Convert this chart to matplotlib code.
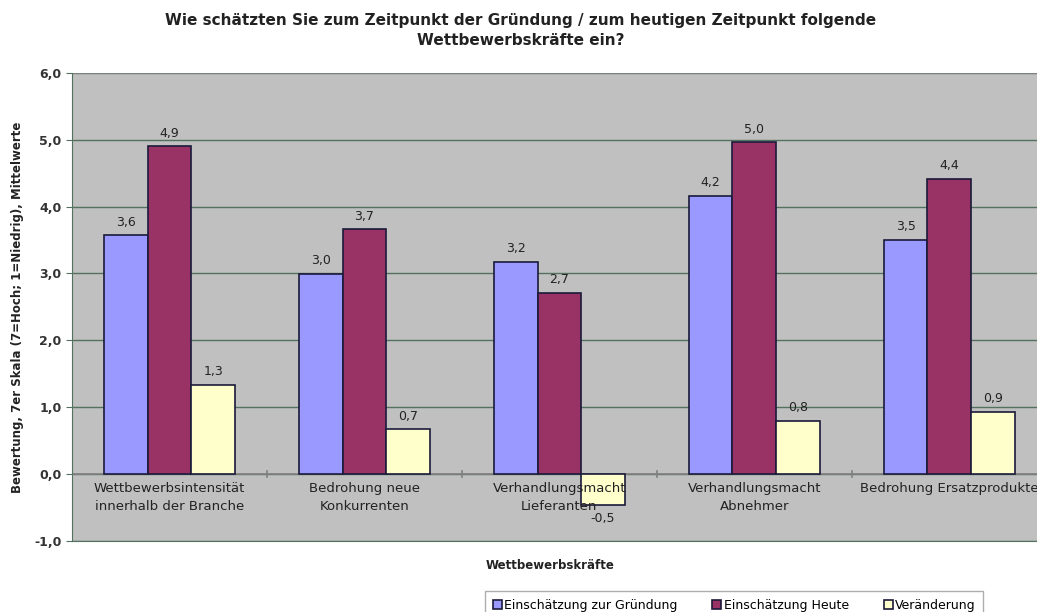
import matplotlib
matplotlib.use("Agg")
import matplotlib.pyplot as plt
import numpy as np

plt.rcParams["font.family"] = ["DejaVu Sans"]

categories = ["Wettbewerbsintensität\ninnerhalb der Branche",
              "Bedrohung neue\nKonkurrenten",
              "Verhandlungsmacht\nLieferanten",
              "Verhandlungsmacht\nAbnehmer",
              "Bedrohung Ersatzprodukte"]
gruendung = [3.57, 2.99, 3.17, 4.16, 3.50]
heute = [4.90, 3.66, 2.71, 4.96, 4.42]
veraenderung = [1.33, 0.67, -0.46, 0.80, 0.93]
series_names = ["Einschätzung zur Gründung", "Einschätzung Heute", "Veränderung"]
colors = ["#9999ff", "#993366", "#ffffcc"]

fig = plt.figure(figsize=(10.37, 6.12), dpi=100)
# plot area runs past the right edge of the picture, as in the original
ax = fig.add_axes([0.0694, 0.116, 0.940, 0.765])
ax.set_facecolor("#c0c0c0")

x = np.arange(len(categories))
bw = 0.224
handles = []
for i, (vals, name, col) in enumerate(zip([gruendung, heute, veraenderung], series_names, colors)):
    bars = ax.bar(x + (i - 1) * bw, vals, bw, color=col, edgecolor="#1a1a3a",
                  linewidth=1.2, label=name, zorder=3)
    handles.append(bars)
    for b, v in zip(bars, vals):
        lab = f"{v:.1f}".replace(".", ",")
        if v >= 0:
            ax.text(b.get_x() + b.get_width() / 2, v + 0.1, lab, ha="center",
                    va="bottom", fontsize=9, color="#222222", zorder=5)
        else:
            ax.text(b.get_x() + b.get_width() / 2, v - 0.1, lab, ha="center",
                    va="top", fontsize=9, color="#222222", zorder=5)

ax.set_xlim(-0.5, len(categories) - 0.5)
ax.set_ylim(-1, 6)
ax.set_yticks(np.arange(-1, 7, 1))
ax.set_yticklabels([f"{t:.1f}".replace(".", ",") for t in np.arange(-1, 7, 1)],
                   fontsize=9, fontweight="bold", color="#333333")
ax.yaxis.grid(True, color="#52715f", linewidth=1.0, zorder=1)
ax.set_axisbelow(True)
ax.axhline(0, color="#808080", linewidth=1.2, zorder=2)
ax.axhline(6, color="#808080", linewidth=1.4, zorder=2)

# category labels just under the zero line
ax.set_xticks([])
for xi, c in zip(x, categories):
    ax.text(xi, -0.12, c, ha="center", va="top", fontsize=9.5, color="#222222",
            linespacing=1.45, zorder=6)
for b in np.arange(0.5, len(categories) - 0.5, 1):
    ax.plot([b, b], [-0.05, 0.05], color="#808080", lw=1.2, zorder=2)

for s in ["top", "right"]:
    ax.spines[s].set_visible(False)
ax.spines["bottom"].set_color("#52715f")
ax.spines["left"].set_color("#52715f")
ax.tick_params(axis="y", length=4, color="#52715f")

ax.set_ylabel("Bewertung, 7er Skala (7=Hoch; 1=Niedrig), Mittelwerte",
              fontsize=8.5, fontweight="bold", color="#222222", labelpad=7)
fig.text(0.530, 0.076, "Wettbewerbskräfte", ha="center", va="center",
         fontsize=8.5, fontweight="bold", color="#222222")

fig.suptitle("Wie schätzten Sie zum Zeitpunkt der Gründung / zum heutigen Zeitpunkt folgende\n"
             "Wettbewerbskräfte ein?", x=0.502, y=0.978, fontsize=11, fontweight="bold",
             color="#222222", linespacing=1.4)

leg = fig.legend(handles=handles, labels=series_names, loc="lower left",
                 bbox_to_anchor=(0.462, -0.022), ncol=3, fontsize=9, frameon=True,
                 fancybox=False, edgecolor="#999999", handlelength=0.7,
                 handleheight=0.7, handletextpad=0.2, columnspacing=2.8,
                 borderpad=0.6)
leg.get_frame().set_linewidth(1.0)

fig.savefig("out.png", dpi=100, facecolor="white")
